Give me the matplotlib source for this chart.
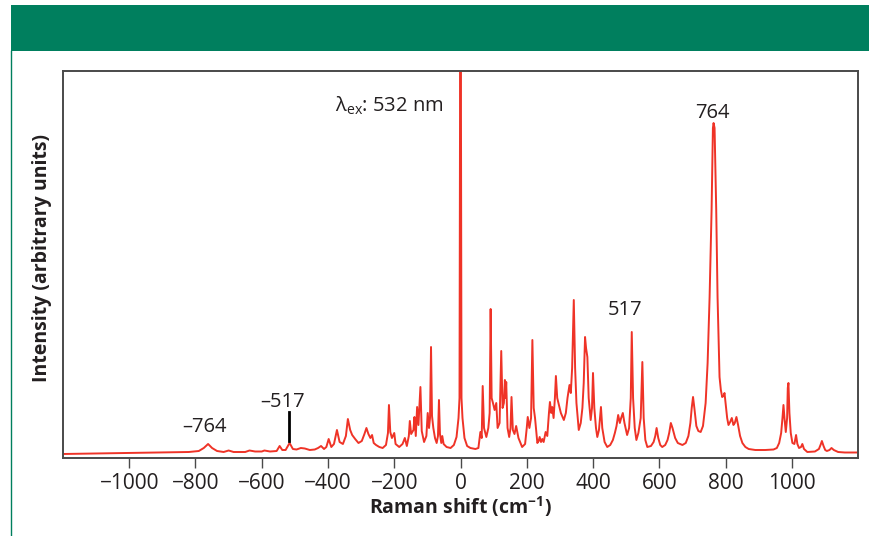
import matplotlib
matplotlib.use("Agg")
import matplotlib.pyplot as plt
from matplotlib.patches import Rectangle
from matplotlib.lines import Line2D

plt.rcParams['font.family'] = ['Open Sans', 'DejaVu Sans']
plt.rcParams['mathtext.fontset'] = 'custom'
plt.rcParams['mathtext.rm'] = 'Open Sans'
plt.rcParams['mathtext.it'] = 'Open Sans'
plt.rcParams['mathtext.bf'] = 'Open Sans:bold'

# ---- data ----
raman_shift = [
    -1200, -1100, -1000, -900, -820, -790, -775, -762, -750, -735, -715, -700, -685, -650,
    -637, -620, -600, -592, -575, -555, -546, -538, -528, -516, -506, -495, -482, -470,
    -455, -440, -430, -421, -412, -405, -398, -390, -382, -373, -365, -355, -346, -340,
    -333, -327, -318, -308, -298, -290, -284, -278, -272, -267, -262, -255, -245, -235,
    -225, -219, -216, -212, -207, -200, -196, -185, -175, -168, -162, -156, -153, -149,
    -142, -139, -135, -131, -127, -121, -117, -110, -103, -99, -95, -92, -89, -86, -82,
    -77, -72, -68, -65, -62, -58, -55, -51, -42, -30, -20, -12, -6, -3, 0, 3, 6, 12, 20,
    30, 45, 54, 60, 64, 67, 71, 78, 84, 88, 91, 94, 98, 103, 108, 112, 118, 123, 127,
    131, 134, 136, 138, 142, 147, 151, 154, 158, 163, 168, 175, 186, 195, 200, 203, 208,
    213, 217, 221, 225, 232, 236, 239, 243, 247, 251, 257, 262, 267, 270, 274, 277, 281,
    285, 288, 292, 297, 303, 312, 318, 323, 329, 333, 337, 342, 346, 350, 357, 363, 368,
    372, 376, 379, 383, 387, 393, 397, 400, 404, 409, 413, 418, 421, 424, 428, 435, 443,
    452, 460, 466, 471, 476, 481, 485, 490, 495, 503, 509, 514, 517, 521, 526, 531, 537,
    544, 549, 553, 558, 564, 575, 583, 588, 592, 597, 603, 609, 618, 625, 630, 635, 640,
    648, 656, 670, 680, 688, 694, 698, 702, 706, 712, 718, 725, 732, 740, 746, 752, 758,
    762, 764, 767, 772, 776, 782, 786, 790, 794, 797, 801, 805, 809, 814, 819, 824, 828,
    833, 838, 844, 851, 860, 870, 890, 920, 945, 955, 962, 968, 972, 975, 978, 982, 986,
    988, 990, 993, 997, 1002, 1008, 1013, 1017, 1022, 1028, 1032, 1037, 1047, 1070, 1082,
    1088, 1091, 1096, 1101, 1106, 1114, 1120, 1127, 1140, 1160, 1200,
]
intensity = [
    4, 4.5, 5, 5.5, 6, 7, 10, 14, 10, 7, 6, 7.5, 6, 6,
    7.5, 6.5, 6.5, 7.5, 6.5, 7, 12, 8, 8, 15, 9, 8.5, 10, 9.5,
    8, 8.5, 10, 12, 9, 11, 19, 11, 14, 28, 16, 14, 22, 39,
    28, 23, 19, 15, 17, 24, 30, 24, 20, 23, 15, 13, 11, 10,
    13, 25, 53, 26, 20, 25, 14, 11, 14, 20, 12, 22, 37, 24,
    28, 41, 22, 51, 33, 71, 27, 16, 22, 45, 30, 40, 111, 42, 30,
    20, 15, 22, 58, 24, 15, 22, 14, 11, 10, 13, 21, 40, 60, 600, 60, 40, 20, 12,
    10, 9, 10, 26, 20, 72, 30, 21, 30, 45, 149, 60, 55, 48, 55, 30, 35, 107, 50,
    55, 78, 60, 76, 30, 21, 30, 61, 28, 24, 32, 20, 11, 14, 30, 41, 30,
    40, 118, 50, 40, 15, 17, 21, 16, 19, 16, 26, 22, 45, 56, 45, 51, 40,
    60, 82, 60, 53, 45, 38, 45, 60, 73, 65, 90, 158, 90, 55, 28, 35, 50,
    75, 121, 110, 101, 60, 38, 50, 85, 50, 30, 21, 28, 40, 51, 30, 16, 11,
    13, 18, 25, 32, 43, 35, 40, 45, 35, 23, 30, 60, 126, 60, 30, 18, 25,
    40, 96, 40, 18, 11, 12, 16, 22, 30, 20, 13, 11, 13, 18, 25, 35, 30,
    20, 15, 13, 15, 22, 35, 50, 61, 50, 32, 27, 26, 32, 55, 95, 161, 248,
    330, 335, 330, 248, 161, 81, 68, 61, 62, 65, 52, 40, 33, 36, 40, 33, 35,
    41, 33, 22, 15, 11, 9, 8, 8, 8.5, 10, 15, 25, 40, 53, 40, 26, 40,
    70, 75, 45, 25, 15, 14, 23, 14, 10, 11, 14, 9, 6, 6.5, 9,
    14, 17, 12, 8, 7, 8, 10, 8, 6, 5.5, 5.5,
]
xticks = [-1000, -800, -600, -400, -200, 0, 200, 400, 600, 800, 1000]
peak_labels = ["\u2013764", "\u2013517", "517", "764"]
peak_label_x = [-773, -538, 498, 761]
peak_label_y = [26, 51, 143, 340]
excitation_label = r"λ$_{\mathregular{ex}}$: 532 nm"

W, H = 870, 536
fig = plt.figure(figsize=(W / 100, H / 100), dpi=100)

green = '#007F5E'
fig.add_artist(Rectangle((11 / W, 1 - 50.5 / H), 1 - 11 / W, 45.5 / H,
                         transform=fig.transFigure, color=green, lw=0))
fig.add_artist(Line2D([11.5 / W, 11.5 / W], [0, 1 - 50.5 / H],
                      transform=fig.transFigure, color=green, lw=1.0))

ax = fig.add_axes([63 / W, 1 - 458 / H, 795 / W, 387 / H])
ax.plot(raman_shift, intensity, color='#EF3327', lw=1.4, solid_joinstyle='round')
ax.set_xlim(-1200, 1200)
ax.set_ylim(0, 387)
ax.set_xticks(xticks)
ax.set_xticklabels([("\u2212" + str(-t)) if t < 0 else str(t) for t in xticks])
ax.set_yticks([])
for s in ax.spines.values():
    s.set_color('#4a4a4a')
    s.set_linewidth(1.4)
ax.tick_params(axis='x', direction='out', length=7, width=1.0, color='#4a4a4a',
               labelsize=15, labelcolor='#231F20', pad=3.5)

for lab, lx, ly in zip(peak_labels, peak_label_x, peak_label_y):
    ax.text(lx, ly, lab, ha='center', va='baseline', fontsize=14.5, color='#231F20')
ax.text(-51, 346, excitation_label, ha='right', va='baseline', fontsize=14.5, color='#231F20')

# marker tick for -517
ax.plot([-519, -519], [17, 46], color='black', lw=2.0)

fig.text(460 / W, 1 - 507 / H, r"Raman shift (cm$^{\mathbf{-1}}$)", ha='center', va='center',
         fontsize=14, fontweight='bold', color='#231F20')
fig.text(42 / W, 1 - 258 / H, "Intensity (arbitrary units)", ha='center', va='center',
         rotation=90, fontsize=14, fontweight='bold', color='#231F20')

fig.savefig('out.png', dpi=100)
